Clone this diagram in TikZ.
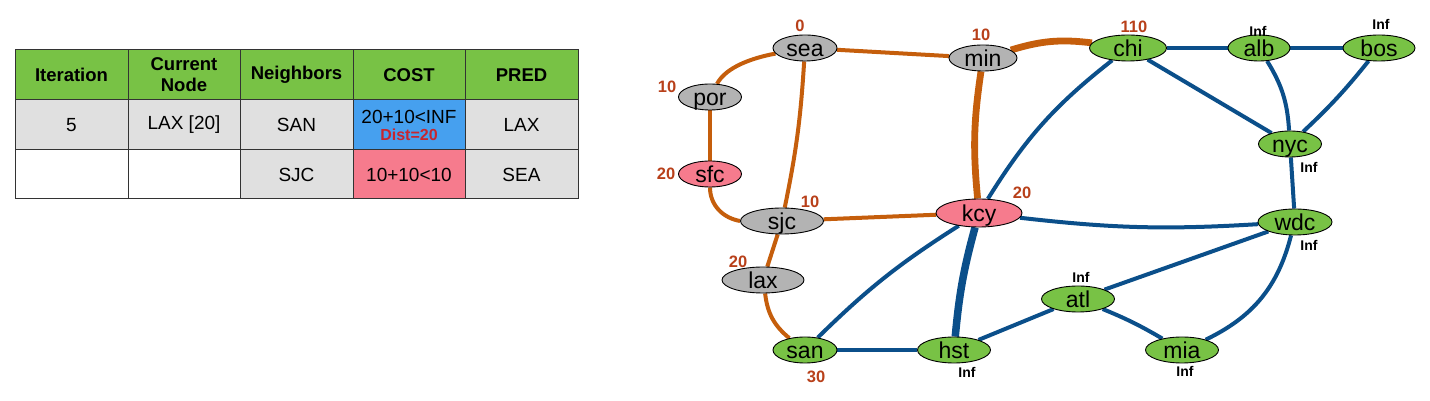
\documentclass[tikz,border=0pt]{standalone}
\usepackage{fontspec}
\setmainfont{Liberation Sans}
\usetikzlibrary{shapes.geometric}
\pgfdeclarelayer{background}
\pgfsetlayers{background,main}
\definecolor{hdrgreen}{HTML}{78C245}
\definecolor{cellgray}{HTML}{E0E0E0}
\definecolor{cellblue}{HTML}{46A0EF}
\definecolor{cellpink}{HTML}{F67B8D}
\definecolor{nodegray}{HTML}{B3B3B3}
\definecolor{nodegreen}{HTML}{78C245}
\definecolor{nodepink}{HTML}{F67B8D}
\definecolor{edgeorange}{HTML}{C55E0C}
\definecolor{edgeblue}{HTML}{0B4F8A}
\definecolor{costred}{HTML}{B8401A}
\definecolor{distred}{HTML}{C8262E}
\tikzset{
  cell/.style={draw=black!80, line width=1pt, minimum width=113pt, minimum height=50pt, inner sep=0pt, align=center, font=\fontsize{19}{21}\selectfont},
  hdr/.style={cell, fill=hdrgreen, font=\fontsize{18.5}{21}\selectfont\bfseries},
  city/.style={ellipse, draw=black, line width=0.9pt, inner sep=0pt, minimum height=26pt, text height=17pt, text depth=0pt, font=\fontsize{23}{23}\selectfont},
  cgray/.style={city, fill=nodegray},
  cgreen/.style={city, fill=nodegreen},
  cpink/.style={city, fill=nodepink},
  cost/.style={text=costred, font=\fontsize{16.5}{16.5}\selectfont\bfseries, inner sep=0pt},
  inflab/.style={text=black, font=\fontsize{14}{14}\selectfont\bfseries, inner sep=0pt},
  oedge/.style={draw=edgeorange, line width=4pt},
  bedge/.style={draw=edgeblue, line width=4pt},
  oedgethick/.style={draw=edgeorange, line width=6.8pt},
  bedgethick/.style={draw=edgeblue, line width=7.5pt},
}
\begin{document}
\begin{tikzpicture}[x=1pt,y=1pt]
\useasboundingbox (0,0) rectangle (1430,401);
% ---------- table ----------
\node[hdr, minimum width=113pt] (h1) at (71.5,326) {Iteration};
\node[hdr, minimum width=112pt] (h2) at (184,326) {Current\\Node};
\node[hdr, minimum width=113pt] (h3) at (296.5,326) {Neighbors};
\node[hdr, minimum width=112pt] (h4) at (409,326) {COST};
\node[hdr, minimum width=113pt] (h5) at (521.5,326) {PRED};
\node[cell, fill=cellgray, minimum width=113pt] (a1) at (71.5,276) {5};
\node[cell, fill=cellgray, minimum width=112pt] (a2) at (184,276) {LAX [20]};
\node[cell, fill=cellgray, minimum width=113pt] (a3) at (296.5,276) {SAN};
\node[cell, fill=cellblue, minimum width=112pt] (a4) at (409,276) {20+10<INF\\[-4pt]{\fontsize{16}{16}\selectfont\bfseries\color{distred}Dist=20}};
\node[cell, fill=cellgray, minimum width=113pt] (a5) at (521.5,276) {LAX};
\node[cell, fill=white, minimum width=113pt, minimum height=49pt] (b1) at (71.5,226.5) {};
\node[cell, fill=white, minimum width=112pt, minimum height=49pt] (b2) at (184,226.5) {};
\node[cell, fill=cellgray, minimum width=113pt, minimum height=49pt] (b3) at (296.5,226.5) {SJC};
\node[cell, fill=cellpink, minimum width=112pt, minimum height=49pt] (b4) at (409,226.5) {10+10<10};
\node[cell, fill=cellgray, minimum width=113pt, minimum height=49pt] (b5) at (521.5,226.5) {SEA};
% ---------- graph nodes ----------
\node[cgray, minimum width=64pt] (sea) at (805,353) {sea};
\node[cgray, minimum width=68pt] (min) at (983,343) {min};
\node[cgray, minimum width=63pt] (por) at (710,304) {por};
\node[cpink, minimum width=63pt] (sfc) at (710,227) {sfc};
\node[cgreen, minimum width=77pt] (chi) at (1128,353) {chi};
\node[cgreen, minimum width=62pt] (alb) at (1259,353) {alb};
\node[cgreen, minimum width=72pt] (bos) at (1379,353) {bos};
\node[cgreen, minimum width=63pt] (nyc) at (1290,257) {nyc};
\node[cgreen, minimum width=74pt] (wdc) at (1295,179) {wdc};
\node[cgray, minimum width=83pt] (sjc) at (782,180) {sjc};
\node[cpink, minimum width=86pt, minimum height=28pt] (kcy) at (979,188) {kcy};
\node[cgray, minimum width=82pt] (lax) at (763,121) {lax};
\node[cgreen, minimum width=64pt] (san) at (805,51) {san};
\node[cgreen, minimum width=73pt] (hst) at (954,51) {hst};
\node[cgreen, minimum width=73pt] (atl) at (1078,102) {atl};
\node[cgreen, minimum width=73pt] (mia) at (1182,51) {mia};
% ---------- labels ----------
\node[cost] (lsea) at (800,375) {0};
\node[cost] (lmin) at (981,366) {10};
\node[cost] (lpor) at (667,314) {10};
\node[cost] (lsfc) at (666,227) {20};
\node[cost] (lchi) at (1134,374) {110};
\node[cost] (lsjc) at (810,199) {10};
\node[cost] (lkcy) at (1022,208) {20};
\node[cost] (llax) at (738,139) {20};
\node[cost] (lsan) at (816,24) {30};
\node[inflab] (lalb) at (1258,370) {Inf};
\node[inflab] (lbos) at (1381,377) {Inf};
\node[inflab] (lnyc) at (1309,234) {Inf};
\node[inflab] (lwdc) at (1309,156) {Inf};
\node[inflab] (latl) at (1081,124) {Inf};
\node[inflab] (lhst) at (967,29) {Inf};
\node[inflab] (lmia) at (1185,30) {Inf};
% ---------- edges ----------
\begin{pgfonlayer}{background}
\draw[oedge] (sea) .. controls (752,343) and (726,334) .. (por);
\draw[oedge] (sea) -- (min);
\draw[oedge] (sea) to[bend left=4] (sjc);
\draw[oedge] (por) -- (sfc);
\draw[oedge] (sfc.south) to[out=-90,in=170] (sjc.west);
\draw[oedgethick] (min) to[bend left=12] (chi);
\draw[oedgethick] (min) to[bend right=7] (kcy);
\draw[oedge] (sjc) -- (kcy);
\draw[oedge] (sjc) -- (lax);
\draw[oedge] (lax) to[bend right=22] (san);
\draw[bedge] (chi) -- (alb);
\draw[bedge] (alb) -- (bos);
\draw[bedge] (chi) -- (nyc);
\draw[bedge] (alb) to[bend left=14] (nyc);
\draw[bedge] (bos) to[bend left=4] (nyc);
\draw[bedge] (nyc) -- (wdc);
\draw[bedge] (chi) to[bend right=10] (kcy);
\draw[bedge] (kcy) to[bend right=5] (wdc);
\draw[bedge] (kcy) to[bend right=6] (san);
\draw[bedgethick] (kcy) to[bend right=5] (hst);
\draw[bedge] (san) -- (hst);
\draw[bedge] (hst) -- (atl);
\draw[bedge] (atl) -- (wdc);
\draw[bedge] (atl) to[bend left=4] (mia);
\draw[bedge] (mia) to[bend right=25] (wdc);
\end{pgfonlayer}
\end{tikzpicture}
\end{document}
